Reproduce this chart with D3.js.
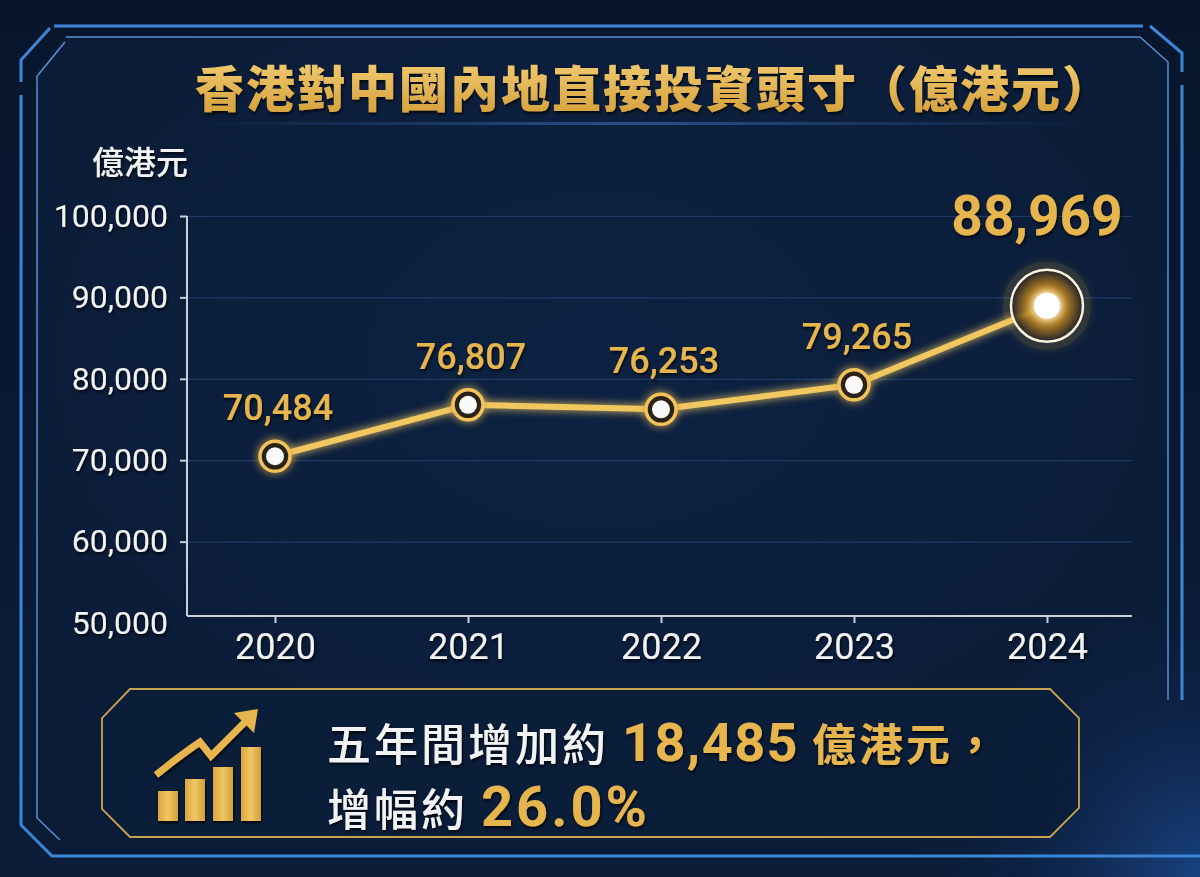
<!DOCTYPE html>
<html>
<head>
<meta charset="utf-8">
<script src="https://cdn.jsdelivr.net/npm/d3@7"></script>
<style>
  body { margin: 0; background: #071429; }
  svg { display: block; }
</style>
</head>
<body>
<div id="chart"></div>
<script>
// Chart data
var years = ["2020", "2021", "2022", "2023", "2024"];
var values = [70484, 76807, 76253, 79265, 88969];
var yTicks = [50000, 60000, 70000, 80000, 90000, 100000];
var titleText = "香港對中國內地直接投資頭寸（億港元）";
var unitText = "億港元";
var summaryLine1 = ["五年間增加約 ", "18,485", " 億港元，"];
var summaryLine2 = ["增幅約 ", "26.0%"];

// SVG area
var svgWidth = 1200;
var svgHeight = 877;

var gold = "#e6b54e";
var white = "#f2f3f5";
var numFont = "Roboto, 'Liberation Sans', sans-serif";
var cjkFont = "'Noto Sans CJK TC', 'Noto Sans', sans-serif";

var svg = d3.select("#chart")
  .append("svg")
  .attr("width", svgWidth)
  .attr("height", svgHeight);

var defs = svg.append("defs");

// background gradients
var bg = defs.append("linearGradient").attr("id", "bg").attr("x1", 0).attr("y1", 0).attr("x2", 0).attr("y2", 1);
bg.append("stop").attr("offset", "0%").attr("stop-color", "#08162d");
bg.append("stop").attr("offset", "100%").attr("stop-color", "#0a1c38");

var panel = defs.append("radialGradient").attr("id", "panel").attr("cx", "50%").attr("cy", "40%").attr("r", "70%");
panel.append("stop").attr("offset", "0%").attr("stop-color", "#0d2242");
panel.append("stop").attr("offset", "100%").attr("stop-color", "#0a1b36");

var city = defs.append("radialGradient").attr("id", "city").attr("cx", "100%").attr("cy", "100%").attr("r", "100%");
city.append("stop").attr("offset", "0%").attr("stop-color", "#1d4f9a").attr("stop-opacity", 0.75);
city.append("stop").attr("offset", "100%").attr("stop-color", "#0a1b36").attr("stop-opacity", 0);

var titleGrad = defs.append("linearGradient").attr("id", "titleGrad").attr("x1", 0).attr("y1", 0).attr("x2", 0).attr("y2", 1);
titleGrad.append("stop").attr("offset", "0%").attr("stop-color", "#f6d27a");
titleGrad.append("stop").attr("offset", "100%").attr("stop-color", "#d29c36");

var barGrad = defs.append("linearGradient").attr("id", "barGrad").attr("x1", 0).attr("y1", 0).attr("x2", 1).attr("y2", 0);
barGrad.append("stop").attr("offset", "0%").attr("stop-color", "#d9a43f");
barGrad.append("stop").attr("offset", "50%").attr("stop-color", "#f0c764");
barGrad.append("stop").attr("offset", "100%").attr("stop-color", "#d49d38");

var bigGlow = defs.append("radialGradient").attr("id", "bigGlow");
bigGlow.append("stop").attr("offset", "0%").attr("stop-color", "#fff6d8");
bigGlow.append("stop").attr("offset", "28%").attr("stop-color", "#f7c658");
bigGlow.append("stop").attr("offset", "60%").attr("stop-color", "#b07a1e").attr("stop-opacity", 0.85);
bigGlow.append("stop").attr("offset", "100%").attr("stop-color", "#1a1e2a").attr("stop-opacity", 0.9);

var lineBand = defs.append("linearGradient").attr("id", "lineBand").attr("x1", 0).attr("x2", 1);
lineBand.append("stop").attr("offset", "0%").attr("stop-color", "#3a6fb8").attr("stop-opacity", 0);
lineBand.append("stop").attr("offset", "50%").attr("stop-color", "#3a6fb8").attr("stop-opacity", 0.6);
lineBand.append("stop").attr("offset", "100%").attr("stop-color", "#3a6fb8").attr("stop-opacity", 0);

// glow filter
var glow = defs.append("filter").attr("id", "glow").attr("x", "-50%").attr("y", "-50%").attr("width", "200%").attr("height", "200%");
glow.append("feGaussianBlur").attr("stdDeviation", 4).attr("result", "b");
var gm = glow.append("feMerge");
gm.append("feMergeNode").attr("in", "b");
gm.append("feMergeNode").attr("in", "SourceGraphic");

var shadow = defs.append("filter").attr("id", "shadow").attr("x", "-10%").attr("y", "-20%").attr("width", "120%").attr("height", "150%");
shadow.append("feDropShadow").attr("dx", 1).attr("dy", 2).attr("stdDeviation", 1.5).attr("flood-color", "#000").attr("flood-opacity", 0.8);

// background
svg.append("rect").attr("width", svgWidth).attr("height", svgHeight).attr("fill", "url(#bg)");

// panel
svg.append("path")
  .attr("d", "M65,37 L1140,37 L1168,62 L1168,846 L37,846 L37,70 Z")
  .attr("fill", "url(#panel)");
svg.append("rect").attr("x", 900).attr("y", 560).attr("width", 300).attr("height", 317).attr("fill", "url(#city)");

// frame lines
var frame = svg.append("g").attr("fill", "none").attr("stroke", "#3d86d6");
frame.append("path").attr("d", "M54,26 L1143,26").attr("stroke-width", 3);
frame.append("path").attr("d", "M1150,26 L1182,53 L1182,72").attr("stroke-width", 3);
frame.append("path").attr("d", "M1182,85 L1182,700").attr("stroke-width", 3);
frame.append("path").attr("d", "M50,28 L21,60 L21,82").attr("stroke-width", 3);
frame.append("path").attr("d", "M21,95 L21,825 L52,856 L1200,856").attr("stroke-width", 3);
frame.append("path").attr("d", "M66,37 L1140,37 L1168,62 L1168,700").attr("stroke-width", 1.5).attr("stroke", "#5b8fd0");
frame.append("path").attr("d", "M38,75 L65,42").attr("stroke-width", 1.5).attr("stroke", "#5b8fd0");
frame.append("path").attr("d", "M37,75 L37,818 L60,840").attr("stroke-width", 1.5).attr("stroke", "#5b8fd0");

// band under title
svg.append("rect").attr("x", 190).attr("y", 122).attr("width", 900).attr("height", 3).attr("fill", "url(#lineBand)");

// title
svg.append("text")
  .attr("x", 654)
  .attr("y", 107)
  .attr("text-anchor", "middle")
  .attr("font-family", cjkFont)
  .attr("font-weight", 900)
  .attr("font-size", 49)
  .attr("letter-spacing", 2)
  .attr("fill", "url(#titleGrad)")
  .attr("filter", "url(#shadow)")
  .text(titleText);

// Chart area
var plotLeft = 187;
var plotRight = 1132;
var axisY = 616;

var xScale = d3.scalePoint()
  .domain(years)
  .range([275, 1047]);

var yScale = d3.scaleLinear()
  .domain([50000, 100000])
  .range([623, 216]);

var chartGroup = svg.append("g");

// grid lines
chartGroup.append("g")
  .attr("transform", `translate(${plotLeft}, 0)`)
  .call(d3.axisLeft(yScale).tickValues(yTicks.filter(d => d > 50000)).tickSize(-(plotRight - plotLeft)).tickFormat(""))
  .call(g => g.select(".domain").remove())
  .call(g => g.selectAll("line").attr("stroke", "#2b4f84").attr("stroke-opacity", 0.6).attr("stroke-width", 1.2));

// y axis
var leftAxis = d3.axisLeft(yScale)
  .tickValues(yTicks)
  .tickFormat(d3.format(","))
  .tickSize(7)
  .tickPadding(12);

chartGroup.append("g")
  .attr("transform", `translate(${plotLeft}, 0)`)
  .call(leftAxis)
  .call(g => g.select(".domain").remove())
  .call(g => g.selectAll("line").attr("stroke", "#c9ced8").attr("stroke-width", 2))
  .call(g => g.selectAll("line").filter(d => d === 50000).remove())
  .call(g => g.selectAll("text")
    .attr("fill", white)
    .attr("font-family", numFont)
    .attr("font-size", 32)
    .attr("filter", "url(#shadow)"));

chartGroup.append("line")
  .attr("x1", plotLeft).attr("x2", plotLeft)
  .attr("y1", 216).attr("y2", axisY)
  .attr("stroke", "#c9ced8").attr("stroke-width", 2);

// x axis
var bottomAxis = d3.axisBottom(xScale)
  .tickSize(7)
  .tickPadding(10);

chartGroup.append("g")
  .attr("transform", `translate(0, ${axisY})`)
  .call(bottomAxis)
  .call(g => g.select(".domain").remove())
  .call(g => g.selectAll("line").attr("stroke", "#c9ced8").attr("stroke-width", 2))
  .call(g => g.selectAll("text")
    .attr("fill", white)
    .attr("font-family", numFont)
    .attr("font-size", 36)
    .attr("filter", "url(#shadow)"));

chartGroup.append("line")
  .attr("x1", plotLeft).attr("x2", plotRight)
  .attr("y1", axisY).attr("y2", axisY)
  .attr("stroke", "#c9ced8").attr("stroke-width", 2);

// unit label
svg.append("text")
  .attr("x", 188)
  .attr("y", 174)
  .attr("text-anchor", "end")
  .attr("font-family", cjkFont)
  .attr("font-weight", 500)
  .attr("font-size", 32)
  .attr("fill", white)
  .attr("filter", "url(#shadow)")
  .text(unitText);

// line
var data = years.map((y, i) => ({ year: y, value: values[i] }));

var line = d3.line()
  .x(d => xScale(d.year))
  .y(d => yScale(d.value));

chartGroup.append("path")
  .datum(data)
  .attr("d", line)
  .attr("fill", "none")
  .attr("stroke", "#f1c760")
  .attr("stroke-width", 6)
  .attr("stroke-linejoin", "round")
  .attr("filter", "url(#glow)");

// points except last
var small = data.slice(0, data.length - 1);
var last = data[data.length - 1];

chartGroup.selectAll(".pt")
  .data(small)
  .enter()
  .append("circle")
  .attr("cx", d => xScale(d.year))
  .attr("cy", d => yScale(d.value))
  .attr("r", 15)
  .attr("fill", "#2a2214")
  .attr("stroke", "#f1c35a")
  .attr("stroke-width", 3.5)
  .attr("filter", "url(#glow)");

chartGroup.selectAll(".ptc")
  .data(small)
  .enter()
  .append("circle")
  .attr("cx", d => xScale(d.year))
  .attr("cy", d => yScale(d.value))
  .attr("r", 9)
  .attr("fill", "#fafafa");

// last point highlighted
chartGroup.append("circle")
  .attr("cx", xScale(last.year))
  .attr("cy", yScale(last.value))
  .attr("r", 44)
  .attr("fill", "#f0b940")
  .attr("opacity", 0.16)
  .attr("filter", "url(#glow)");

chartGroup.append("circle")
  .attr("cx", xScale(last.year))
  .attr("cy", yScale(last.value))
  .attr("r", 36)
  .attr("fill", "url(#bigGlow)")
  .attr("stroke", "#fbf3dc")
  .attr("stroke-width", 2.5);

chartGroup.append("circle")
  .attr("cx", xScale(last.year))
  .attr("cy", yScale(last.value))
  .attr("r", 13)
  .attr("fill", "#ffffff")
  .attr("filter", "url(#glow)");

// value labels
chartGroup.selectAll(".lbl")
  .data(small)
  .enter()
  .append("text")
  .attr("x", d => xScale(d.year) + 3)
  .attr("y", d => yScale(d.value) - 36)
  .attr("text-anchor", "middle")
  .attr("font-family", numFont)
  .attr("font-weight", 500)
  .attr("font-size", 36)
  .attr("fill", gold)
  .attr("filter", "url(#shadow)")
  .text(d => d3.format(",")(d.value));

chartGroup.append("text")
  .attr("x", xScale(last.year) - 10)
  .attr("y", 235)
  .attr("text-anchor", "middle")
  .attr("font-family", numFont)
  .attr("font-weight", 700)
  .attr("font-size", 55)
  .attr("fill", gold)
  .attr("filter", "url(#shadow)")
  .text(d3.format(",")(last.value));

// summary box
var box = svg.append("g");
box.append("path")
  .attr("d", "M130,689 L1050,689 L1079,718 L1079,808 L1050,837 L130,837 L102,809 L102,718 Z")
  .attr("fill", "#0b1d3a")
  .attr("fill-opacity", 0.85)
  .attr("stroke", "#c9a24f")
  .attr("stroke-width", 1.8);

// icon bars
var iconBars = [[158, 791], [185, 779], [213, 767], [241, 747]];
box.selectAll(".ib")
  .data(iconBars)
  .enter()
  .append("rect")
  .attr("x", d => d[0])
  .attr("y", d => d[1])
  .attr("width", 20)
  .attr("height", d => 821 - d[1])
  .attr("fill", "url(#barGrad)")
  .attr("filter", "url(#shadow)");

box.append("path")
  .attr("d", "M156,775 Q182,754 200,742 L211,756 L247,720")
  .attr("fill", "none")
  .attr("stroke", gold)
  .attr("stroke-width", 7)
  .attr("stroke-linejoin", "miter")
  .attr("filter", "url(#shadow)");
box.append("path")
  .attr("d", "M258,709 L254,733 L234,713 Z")
  .attr("fill", gold);

// summary text
var t1 = box.append("text")
  .attr("x", 327)
  .attr("y", 761)
  .attr("filter", "url(#shadow)");
t1.append("tspan").attr("font-family", cjkFont).attr("font-weight", 500).attr("font-size", 44).attr("letter-spacing", 3).attr("fill", white).text(summaryLine1[0]);
t1.append("tspan").attr("font-family", numFont).attr("font-weight", 700).attr("font-size", 54).attr("letter-spacing", 1.5).attr("fill", gold).text(summaryLine1[1]);
t1.append("tspan").attr("font-family", cjkFont).attr("font-weight", 700).attr("font-size", 44).attr("letter-spacing", 3).attr("fill", gold).text(summaryLine1[2]);

var t2 = box.append("text")
  .attr("x", 327)
  .attr("y", 826)
  .attr("filter", "url(#shadow)");
t2.append("tspan").attr("font-family", cjkFont).attr("font-weight", 500).attr("font-size", 44).attr("letter-spacing", 3).attr("fill", white).text(summaryLine2[0]);
t2.append("tspan").attr("font-family", numFont).attr("font-weight", 700).attr("font-size", 56).attr("letter-spacing", 3).attr("fill", gold).text(summaryLine2[1]);
</script>
</body>
</html>
